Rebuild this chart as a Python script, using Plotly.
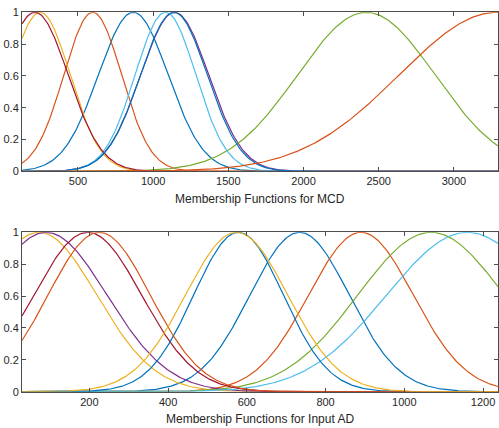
import numpy as np
import plotly.graph_objects as go

# Gaussian membership function parameters (centre, sigma) for each input
mcd_centers = [868, 598, 248, 1143, 2417, 1082, 214, 1138, 3290]
mcd_sigmas = [232, 192, 200, 226, 457, 202, 221, 222, 654]
mcd_range = [128, 3293]
mcd_ticks = [500, 1000, 1500, 2000, 2500, 3000]

ad_centers = [734, 890, 72, 90, 1068, 1160, 196, 579, 225, 574]
ad_sigmas = [126, 133, 147, 155, 186, 205, 137, 114, 130, 130]
ad_range = [29, 1238]
ad_ticks = [200, 400, 600, 800, 1000, 1200]

y_ticks = [0, 0.2, 0.4, 0.6, 0.8, 1]

mcd_label = "Membership Functions for MCD"
ad_label = "Membership Functions for Input AD"

# default line colour order
colors = ["#0072BD", "#D95319", "#EDB120", "#7E2F8E",
          "#77AC30", "#4DBEEE", "#A2142F"]


def gaussmf(x, c, s):
    return np.exp(-((x - c) ** 2) / (2.0 * s ** 2))


fig = go.Figure()


def add_panel(centers, sigmas, xr, xa, ya):
    x = np.linspace(xr[0], xr[1], 400)
    for i, (c, s) in enumerate(zip(centers, sigmas)):
        fig.add_trace(go.Scatter(
            x=x, y=gaussmf(x, c, s), mode="lines",
            line=dict(color=colors[i % len(colors)], width=1.2),
            xaxis=xa, yaxis=ya, showlegend=False, hoverinfo="skip"))


add_panel(mcd_centers, mcd_sigmas, mcd_range, "x", "y")
add_panel(ad_centers, ad_sigmas, ad_range, "x2", "y2")

axis_common = dict(
    showgrid=False, zeroline=False, showline=True, mirror="ticks",
    linecolor="#4d4d4d", linewidth=1, ticks="inside", ticklen=4,
    tickcolor="#4d4d4d", tickwidth=1, automargin=False,
    tickfont=dict(family="Liberation Sans, Arial", size=11, color="#262626"),
)
title_font = dict(family="Liberation Sans, Arial", size=12, color="#262626")

x_dom = [22 / 499, 498 / 499]

fig.update_layout(
    width=499, height=428,
    margin=dict(l=0, r=0, t=0, b=0),
    paper_bgcolor="white", plot_bgcolor="white",
    xaxis=dict(axis_common, domain=x_dom, range=mcd_range,
               tickvals=mcd_ticks, anchor="y"),
    yaxis=dict(axis_common, domain=[0.5998, 0.9713], range=[0, 1],
               tickvals=y_ticks, anchor="x"),
    xaxis2=dict(axis_common, domain=x_dom, range=ad_range,
                tickvals=ad_ticks, anchor="y2"),
    yaxis2=dict(axis_common, domain=[0.0848, 0.4572], range=[0, 1],
                tickvals=y_ticks, anchor="x2"),
)

# axis captions under each panel
x_mid = (x_dom[0] + x_dom[1]) / 2
for text, ypos in [(mcd_label, 1 - 199 / 428), (ad_label, 1 - 419 / 428)]:
    fig.add_annotation(text=text, x=x_mid, y=ypos, xref="paper", yref="paper",
                       xanchor="center", yanchor="middle", showarrow=False,
                       font=title_font)

fig.write_html("out.html")
